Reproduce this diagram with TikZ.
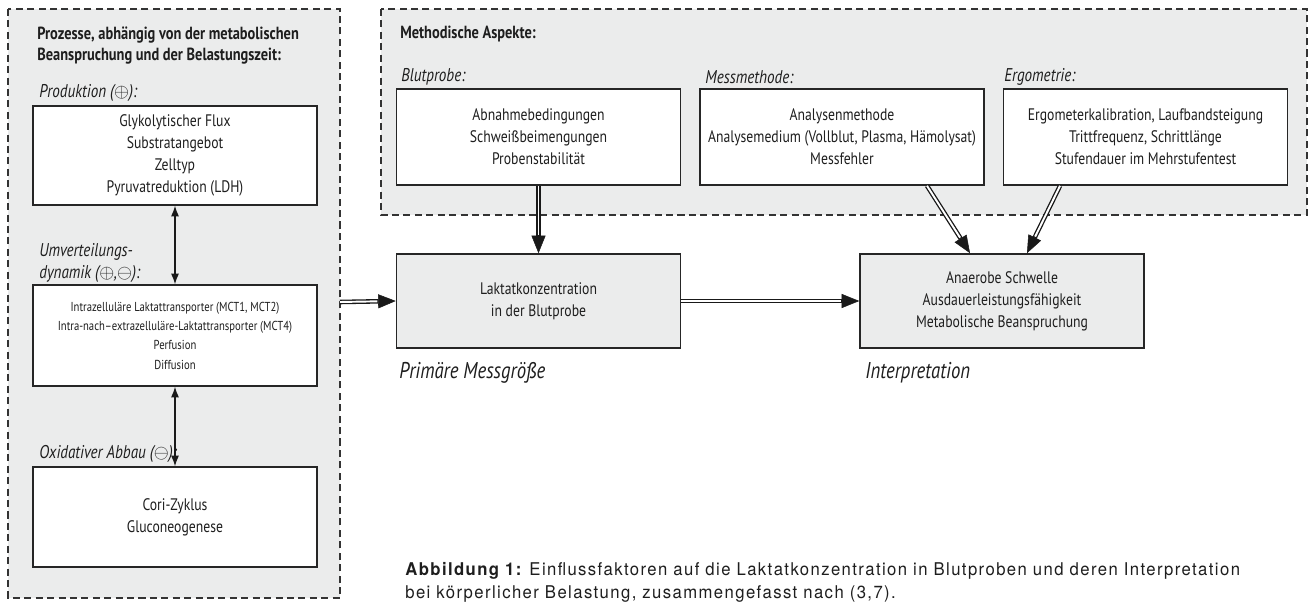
\documentclass[tikz,border=0pt]{standalone}
\usepackage{fontspec}
\setmainfont[FakeStretch=0.82]{PT Sans}
\newfontfamily\capfont[FakeStretch=0.95,LetterSpace=8]{TeX Gyre Heros}
\usetikzlibrary{arrows.meta}
\definecolor{panelgray}{RGB}{235,236,236}
\definecolor{txtgray}{RGB}{30,30,30}
\newcommand{\plusc}{$\oplus$}
\newcommand{\minusc}{$\ominus$}

\begin{document}
\begin{tikzpicture}[x=0.02cm,y=-0.02cm,
  panel/.style={draw=black!80,fill=panelgray,line width=0.6pt,dash pattern=on 4pt off 2.5pt},
  box/.style={draw=black!85,fill=white,line width=0.9pt,align=center,text=txtgray,
    font=\fontsize{9.5}{12.6}\selectfont,inner sep=0pt,minimum width=5.68cm},
  result/.style={box,fill=panelgray,minimum height=1.88cm},
  hint/.style={anchor=west,inner sep=0pt,font=\fontsize{10.5}{12.5}\selectfont\itshape,text=txtgray},
  head/.style={anchor=north west,align=left,inner sep=0pt,font=\fontsize{10}{12.5}\selectfont\bfseries,text=txtgray},
  dbl/.style={draw=black!90,line width=2.6pt,-{Triangle[length=10pt,width=8pt,line width=0.3pt]},
    postaction={draw=white,line width=1.1pt,shorten >=10.5pt,-}},
  link/.style={draw=black!90,line width=0.6pt,{Latex[length=6pt,width=4.5pt]}-{Latex[length=6pt,width=4.5pt]}}]
\useasboundingbox (0,0) rectangle (1310,601);

% background panels
\path[panel] (8,9) rectangle (340,598);
\path[panel] (381,9) rectangle (1307,215);
\coordinate (procR) at (340,302);

% left column: processes
\node[head] (prozesse) at (37,26) {Prozesse, abhängig von der metabolischen\\Beanspruchung und der Belastungszeit:};
\node[hint] (lprod) at (39,93) {Produktion (\plusc):};
\node[box,minimum height=1.98cm] (produktion) at (175,155.5)
  {Glykolytischer Flux\\Substratangebot\\Zelltyp\\Pyruvatreduktion (LDH)};
\node[hint,anchor=north west,align=left,font=\fontsize{10.5}{12.5}\selectfont\itshape] (lumv) at (39,243)
  {Umverteilungs-\\dynamik (\plusc,\minusc):};
\node[box,minimum height=2.02cm,font=\fontsize{7.4}{11}\selectfont] (umverteilung) at (175,335.5)
  {Intrazelluläre Laktattransporter (MCT1, MCT2)\\Intra-nach--extrazelluläre-Laktattransporter (MCT4)\\Perfusion\\Diffusion};
\node[hint] (loxi) at (39,454) {Oxidativer Abbau (\minusc):};
\node[box,minimum height=2cm] (abbau) at (175,517) {Cori-Zyklus\\Gluconeogenese};

\draw[link] (produktion.south) -- (umverteilung.north);
\draw[link] (umverteilung.south) -- (abbau.north);

% top: methodical aspects
\node[head] (methodik) at (400,26) {Methodische Aspekte:};
\node[hint] (lblut) at (401,77) {Blutprobe:};
\node[hint] (lmess) at (705,77) {Messmethode:};
\node[hint] (lergo) at (1004,77) {Ergometrie:};
\node[box,minimum height=1.92cm] (blutprobe) at (538.5,137)
  {Abnahmebedingungen\\Schweißbeimengungen\\Probenstabilität};
\node[box,minimum height=1.92cm] (messmethode) at (842,137)
  {Analysenmethode\\Analysemedium (Vollblut, Plasma, Hämolysat)\\Messfehler};
\node[box,minimum height=1.92cm] (ergometrie) at (1145.5,137)
  {Ergometerkalibration, Laufbandsteigung\\Trittfrequenz, Schrittlänge\\Stufendauer im Mehrstufentest};

% measured value and interpretation
\node[result] (laktat) at (538.5,301) {Laktatkonzentration\\in der Blutprobe};
\node[result] (interp) at (1002,301) {Anaerobe Schwelle\\Ausdauerleistungsfähigkeit\\Metabolische Beanspruchung};
\node[hint,font=\fontsize{13}{15}\selectfont\itshape] (lprimaer) at (399,373) {Primäre Messgröße};
\node[hint,font=\fontsize{13}{15}\selectfont\itshape] (linterp) at (865,373) {Interpretation};

\draw[dbl] (blutprobe.south) -- (laktat.north);
\draw[dbl] (procR) -- (laktat.west);
\draw[dbl] (laktat.east) -- (interp.west);
\draw[dbl] ([xshift=1.7cm]messmethode.south) -- ([xshift=-0.64cm]interp.north);
\draw[dbl] ([xshift=-1.71cm]ergometrie.south) -- ([xshift=0.5cm]interp.north);

% caption
\node[anchor=north west,align=left,inner sep=0pt,font=\capfont\fontsize{10}{13}\selectfont,text=txtgray] (caption) at (405,562)
  {{\bfseries Abbildung 1:} Einflussfaktoren auf die Laktatkonzentration in Blutproben und deren Interpretation\\
   bei körperlicher Belastung, zusammengefasst nach (3,7).};
\end{tikzpicture}
\end{document}
